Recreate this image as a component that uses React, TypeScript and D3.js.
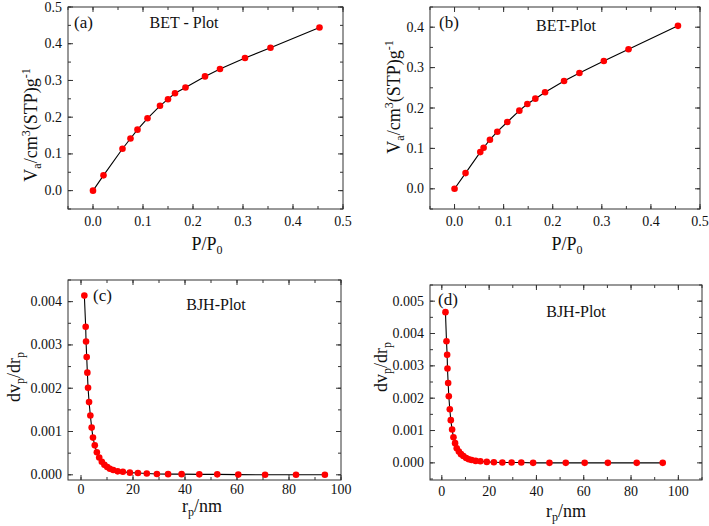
import React from "react";
import * as d3 from "d3";

// ---- Data ----
const betA_x = [0, 0.021, 0.059, 0.075, 0.089, 0.109, 0.134, 0.150, 0.164, 0.185, 0.224, 0.254, 0.304, 0.355, 0.453];
const betA_y = [0, 0.0416, 0.114, 0.142, 0.166, 0.197, 0.231, 0.249, 0.265, 0.281, 0.311, 0.331, 0.361, 0.389, 0.444];

const betB_x = [0, 0.0224, 0.0524, 0.0592, 0.0721, 0.0871, 0.1075, 0.132, 0.1483, 0.1646, 0.1844, 0.2231, 0.2544, 0.3041, 0.3544, 0.4551];
const betB_y = [0, 0.0388, 0.0909, 0.1017, 0.1215, 0.1413, 0.1653, 0.1934, 0.2099, 0.2231, 0.2388, 0.2669, 0.2868, 0.3165, 0.3455, 0.4033];

const bjhC_x = [1.29, 1.8, 1.94, 2.19, 2.45, 2.71, 3.1, 3.6, 4.1, 4.6, 5.3, 6.1, 7.0, 8.0, 9.0, 10.1, 11.1, 12.4, 14.1, 16.1, 18.8, 21.9, 25.3, 29.2, 33.5, 38.7, 45.5, 52.4, 60.5, 70.8, 82.7, 93.8];
const bjhC_y = [0.00414, 0.00342, 0.00308, 0.00272, 0.00236, 0.00201, 0.00168, 0.00137, 0.00109, 0.00086, 0.00068, 0.00052, 0.00040, 0.00030, 0.00023, 0.00018, 0.00014, 0.00011, 0.00008, 0.00007, 0.00005, 0.00004, 0.00003, 0.00002, 0.000015, 0.000015, 0.00001, 0.00001, 0.000005, 0, 0, 0];

const bjhD_x = [1.54, 1.97, 2.25, 2.39, 2.67, 2.95, 3.37, 3.79, 4.35, 4.92, 5.6, 6.3, 7.2, 8.1, 9.1, 10.3, 11.4, 12.6, 14.3, 16.3, 19.0, 22.0, 25.6, 29.5, 33.6, 38.6, 45.5, 52.4, 60.4, 70.2, 82.4, 93.4];
const bjhD_y = [0.00466, 0.00376, 0.00334, 0.00292, 0.00247, 0.00206, 0.00166, 0.00132, 0.00103, 0.00079, 0.00061, 0.00045, 0.00035, 0.00027, 0.00021, 0.00015, 0.00011, 0.00009, 0.00006, 0.00005, 0.00003, 0.00002, 0.00001, 0.00001, 0.00001, 0, 0, 0, 0, 0, 0, 0];

const betXTicks = [0, 0.1, 0.2, 0.3, 0.4, 0.5];
const betAYTicks = [0, 0.1, 0.2, 0.3, 0.4, 0.5];
const betBYTicks = [0, 0.1, 0.2, 0.3, 0.4];
const bjhXTicks = [0, 20, 40, 60, 80, 100];
const bjhCYTicks = [0, 0.001, 0.002, 0.003, 0.004];
const bjhDYTicks = [0, 0.001, 0.002, 0.003, 0.004, 0.005];

const FONT = "Liberation Serif, Times New Roman, DejaVu Serif, serif";
const T: React.CSSProperties = { fontFamily: FONT };

type PanelProps = {
  xs: number[]; ys: number[];
  left: number; right: number; top: number; bottom: number;
  xDomain: [number, number]; yDomain: [number, number];
  xTicks: number[]; yTicks: number[];
  xMinorStep: number; yMinorStep: number;
  xFmt: (v: number) => string; yFmt: (v: number) => string;
  letter: string; letterX: number; letterY: number;
  title: string; titleX: number; titleY: number;
  xLabel: React.ReactNode; xLabelX: number; xLabelY: number;
  yLabel: React.ReactNode; yLabelX: number; yLabelY: number;
  xTickLabelY: number;
};

function Panel(p: PanelProps) {
  const x = d3.scaleLinear().domain(p.xDomain).range([p.left, p.right]);
  const y = d3.scaleLinear().domain(p.yDomain).range([p.bottom, p.top]);
  const pts = p.xs.map((v, i) => [v, p.ys[i]] as [number, number]);
  const line = d3.line<[number, number]>().x(d => x(d[0])).y(d => y(d[1]));
  const eps = 1e-9;
  const xMinor: number[] = [];
  for (let v = Math.ceil((p.xDomain[0] - eps) / p.xMinorStep) * p.xMinorStep; v <= p.xDomain[1] + eps; v += p.xMinorStep) xMinor.push(v);
  const yMinor: number[] = [];
  for (let v = Math.ceil((p.yDomain[0] - eps) / p.yMinorStep) * p.yMinorStep; v <= p.yDomain[1] + eps; v += p.yMinorStep) yMinor.push(v);
  const maj = 5, mn = 3;
  const stroke = "#333";
  return (
    <g>
      <rect x={p.left} y={p.top} width={p.right - p.left} height={p.bottom - p.top} fill="none" stroke={stroke} strokeWidth={1} />
      {xMinor.map((v, i) => (
        <g key={"xm" + i}>
          <line x1={x(v)} x2={x(v)} y1={p.bottom} y2={p.bottom - mn} stroke={stroke} />
          <line x1={x(v)} x2={x(v)} y1={p.top} y2={p.top + mn} stroke={stroke} />
        </g>
      ))}
      {yMinor.map((v, i) => (
        <g key={"ym" + i}>
          <line x1={p.left} x2={p.left + mn} y1={y(v)} y2={y(v)} stroke={stroke} />
          <line x1={p.right} x2={p.right - mn} y1={y(v)} y2={y(v)} stroke={stroke} />
        </g>
      ))}
      {p.xTicks.map((v, i) => (
        <g key={"xt" + i}>
          <line x1={x(v)} x2={x(v)} y1={p.bottom} y2={p.bottom - maj} stroke={stroke} />
          <line x1={x(v)} x2={x(v)} y1={p.top} y2={p.top + maj} stroke={stroke} />
          <text x={x(v)} y={p.xTickLabelY} textAnchor="middle" fontSize={14} style={T} fill="#111">{p.xFmt(v)}</text>
        </g>
      ))}
      {p.yTicks.map((v, i) => (
        <g key={"yt" + i}>
          <line x1={p.left} x2={p.left + maj} y1={y(v)} y2={y(v)} stroke={stroke} />
          <line x1={p.right} x2={p.right - maj} y1={y(v)} y2={y(v)} stroke={stroke} />
          <text x={p.left - 6} y={y(v) + 4.5} textAnchor="end" fontSize={14} style={T} fill="#111">{p.yFmt(v)}</text>
        </g>
      ))}
      <path d={line(pts) || ""} fill="none" stroke="#000" strokeWidth={1.1} />
      {pts.map((d, i) => (
        <circle key={"c" + i} cx={x(d[0])} cy={y(d[1])} r={3.3} fill="#ff0000" />
      ))}
      <text x={p.letterX} y={p.letterY} fontSize={17} style={T} fill="#111">{p.letter}</text>
      <text x={p.titleX} y={p.titleY} textAnchor="middle" fontSize={16} style={T} fill="#111">{p.title}</text>
      <text x={p.xLabelX} y={p.xLabelY} textAnchor="middle" fontSize={18} style={T} fill="#111">{p.xLabel}</text>
      <text transform={`translate(${p.yLabelX},${p.yLabelY}) rotate(-90)`} textAnchor="middle" fontSize={18} style={T} fill="#111">{p.yLabel}</text>
    </g>
  );
}

const betYLabel = (
  <>
    <tspan>V</tspan><tspan fontSize={12} dy={4}>a</tspan>
    <tspan dy={-4}>/cm</tspan><tspan fontSize={12} dy={-7}>3</tspan>
    <tspan dy={7}>(STP)g</tspan><tspan fontSize={12} dy={-7}>-1</tspan>
  </>
);
const ppLabel = (
  <>
    <tspan>P/P</tspan><tspan fontSize={12} dy={4}>0</tspan>
  </>
);
const bjhYLabel = (
  <>
    <tspan>dv</tspan><tspan fontSize={12} dy={4}>p</tspan>
    <tspan dy={-4}>/dr</tspan><tspan fontSize={12} dy={4}>p</tspan>
  </>
);
const rpLabel = (
  <>
    <tspan>r</tspan><tspan fontSize={12} dy={4}>p</tspan><tspan dy={-4}>/nm</tspan>
  </>
);

export default function App() {
  const f1 = d3.format(".1f");
  const f3 = d3.format(".3f");
  const fd = d3.format("d");
  return (
    <svg width={709} height={526} style={{ position: "absolute", left: 0, top: 0, background: "#fff" }}>
      <rect width={709} height={526} fill="#fff" />
      <Panel xs={betA_x} ys={betA_y}
        left={68} right={343} top={7} bottom={209}
        xDomain={[-0.05, 0.5]} yDomain={[-0.05, 0.5]}
        xTicks={betXTicks} yTicks={betAYTicks} xMinorStep={0.05} yMinorStep={0.05}
        xFmt={f1} yFmt={f1}
        letter="(a)" letterX={74} letterY={28}
        title="BET - Plot" titleX={184} titleY={28}
        xLabel={ppLabel} xLabelX={207} xLabelY={250}
        yLabel={betYLabel} yLabelX={37} yLabelY={125}
        xTickLabelY={226} />
      <Panel xs={betB_x} ys={betB_y}
        left={430} right={700} top={7} bottom={209}
        xDomain={[-0.05, 0.5]} yDomain={[-0.05, 0.45]}
        xTicks={betXTicks} yTicks={betBYTicks} xMinorStep={0.05} yMinorStep={0.05}
        xFmt={f1} yFmt={f1}
        letter="(b)" letterX={439} letterY={28}
        title="BET-Plot" titleX={566} titleY={31}
        xLabel={ppLabel} xLabelX={567} xLabelY={250}
        yLabel={betYLabel} yLabelX={400} yLabelY={97}
        xTickLabelY={226} />
      <Panel xs={bjhC_x} ys={bjhC_y}
        left={68} right={341} top={280} bottom={480}
        xDomain={[-5, 100]} yDomain={[-0.00012, 0.0045]}
        xTicks={bjhXTicks} yTicks={bjhCYTicks} xMinorStep={10} yMinorStep={0.0005}
        xFmt={fd} yFmt={f3}
        letter="(c)" letterX={93} letterY={301}
        title="BJH-Plot" titleX={216} titleY={310}
        xLabel={rpLabel} xLabelX={202} xLabelY={512}
        yLabel={bjhYLabel} yLabelX={20} yLabelY={377}
        xTickLabelY={494} />
      <Panel xs={bjhD_x} ys={bjhD_y}
        left={430} right={702} top={285} bottom={480}
        xDomain={[-5, 110]} yDomain={[-0.00053, 0.0055]}
        xTicks={bjhXTicks} yTicks={bjhDYTicks} xMinorStep={10} yMinorStep={0.0005}
        xFmt={fd} yFmt={f3}
        letter="(d)" letterX={438} letterY={305}
        title="BJH-Plot" titleX={576} titleY={317}
        xLabel={rpLabel} xLabelX={566} xLabelY={517}
        yLabel={bjhYLabel} yLabelX={387} yLabelY={367}
        xTickLabelY={496} />
    </svg>
  );
}
